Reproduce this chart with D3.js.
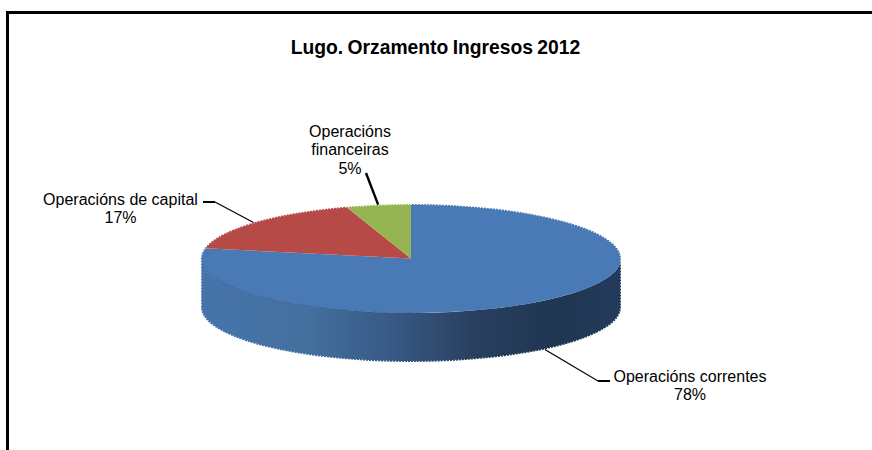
<!DOCTYPE html>
<html>
<head>
<meta charset="utf-8">
<script src="https://cdn.jsdelivr.net/npm/d3@7"></script>
<style>
  html, body { margin: 0; padding: 0; background: #fff; }
  svg { display: block; }
  text { font-family: "Liberation Sans", Arial, sans-serif; fill: #000; }
</style>
</head>
<body>
<svg id="chart" width="872" height="450"></svg>
<script>
const categories = ["Operacións correntes", "Operacións de capital", "Operacións financeiras"];
const values = [78, 17, 5];
const colors = ["#4a7ab5", "#b64a47", "#94b552"];
const labelLines = [
  ["Operacións correntes", "78%"],
  ["Operacións de capital", "17%"],
  ["Operacións", "financeiras", "5%"]
];
const titleText = "Lugo. Orzamento Ingresos 2012";

const width = 872, height = 450;
const cx = 411, cy = 258.5, rx = 210, ry = 54.5, depth = 49;

const svg = d3.select("#chart");

// Frame, only top and left sides are in the picture
svg.append("path")
  .attr("d", `M7.5,${height}V12.5H${width}`)
  .attr("fill", "none")
  .attr("stroke", "#000")
  .attr("stroke-width", 3);

svg.append("text")
  .attr("x", 435.5)
  .attr("y", 53.5)
  .attr("text-anchor", "middle")
  .attr("font-size", 19.3)
  .attr("font-weight", "bold")
  .attr("word-spacing", -1)
  .text(titleText);

// Side wall gradient
const grad = svg.append("defs").append("linearGradient")
  .attr("id", "side")
  .attr("gradientUnits", "userSpaceOnUse")
  .attr("x1", cx - rx).attr("x2", cx + rx)
  .attr("y1", 0).attr("y2", 0);
[[0, "#4674ab"], [0.25, "#44709f"], [0.45, "#385a86"], [0.65, "#28405f"], [0.85, "#1f3552"], [1, "#243b5c"]]
  .forEach(s => grad.append("stop").attr("offset", s[0]).attr("stop-color", s[1]));

svg.append("path")
  .attr("d", `M${cx + rx},${cy}A${rx},${ry} 0 0 1 ${cx - rx},${cy}V${cy + depth}A${rx},${ry} 0 0 0 ${cx + rx},${cy + depth}Z`)
  .attr("fill", "url(#side)");

// Top face
const pie = d3.pie().sort(null)(values);
const arc = d3.arc().innerRadius(0).outerRadius(rx);

const topFace = svg.append("g")
  .attr("transform", `translate(${cx},${cy}) scale(1,${ry / rx})`);

topFace.selectAll("path")
  .data(pie)
  .enter()
  .append("path")
  .attr("d", arc)
  .attr("fill", (d, i) => colors[i]);

// Darker seam where the top meets the wall on the left
svg.append("path")
  .attr("d", `M${cx - rx},${cy}A${rx},${ry} 0 0 0 ${cx},${cy + ry}`)
  .attr("fill", "none")
  .attr("stroke", "#2f5382")
  .attr("stroke-opacity", 0.6)
  .attr("stroke-width", 1);

// Ragged rim of the original bitmap
svg.append("path")
  .attr("d", `M${cx + rx},${cy}A${rx},${ry} 0 0 0 ${cx - rx},${cy}V${cy + depth}A${rx},${ry} 0 0 0 ${cx + rx},${cy + depth}Z`)
  .attr("fill", "none")
  .attr("stroke", "#fff")
  .attr("stroke-width", 2)
  .attr("stroke-dasharray", "1 2");

// Leader lines start at the middle of each slice
const midPoint = (d, drop) => {
  const a = (d.startAngle + d.endAngle) / 2;
  return [cx + rx * Math.sin(a), cy - ry * Math.cos(a) + drop];
};

const leaders = [
  { from: midPoint(pie[0], depth), elbow: [598, 381], end: [610, 381] },
  { from: midPoint(pie[1], 0), elbow: [215, 202], end: [203, 202] },
  { from: midPoint(pie[2], 0), elbow: null, end: [366, 173] }
];

leaders.forEach(l => {
  if (l.elbow) {
    svg.append("line")
      .attr("x1", l.from[0]).attr("y1", l.from[1])
      .attr("x2", l.elbow[0]).attr("y2", l.elbow[1])
      .attr("stroke", "#000").attr("stroke-width", 1.2);
    svg.append("line")
      .attr("x1", l.elbow[0]).attr("y1", l.elbow[1])
      .attr("x2", l.end[0]).attr("y2", l.end[1])
      .attr("stroke", "#000").attr("stroke-width", 2);
  } else {
    svg.append("line")
      .attr("x1", l.from[0]).attr("y1", l.from[1])
      .attr("x2", l.end[0]).attr("y2", l.end[1])
      .attr("stroke", "#000").attr("stroke-width", 2.4);
  }
});

// Data labels
const labelPos = [[690, 381.5], [120.5, 204.5], [350, 136.5]];
labelLines.forEach((lines, i) => {
  const t = svg.append("text")
    .attr("text-anchor", "middle")
    .attr("font-size", 16);
  lines.forEach((s, k) => {
    t.append("tspan")
      .attr("x", labelPos[i][0])
      .attr("y", labelPos[i][1] + k * 18.5)
      .text(s);
  });
});
</script>
</body>
</html>
